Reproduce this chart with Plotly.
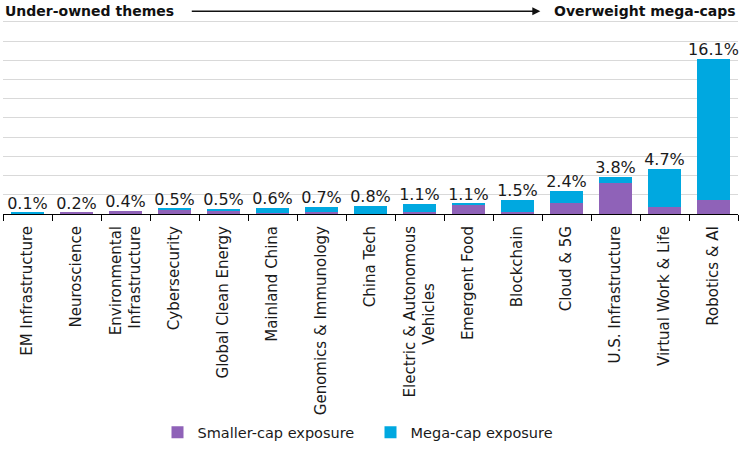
import plotly.graph_objects as go

NB = "\u00a0"
categories = [
    "EM Infrastructure", "Neuroscience", "Environmental<br>Infrastructure",
    "Cybersecurity", "Global Clean Energy", "Mainland China",
    "Genomics & Immunology", "China Tech",
    "Electric & Autonomous<br>Vehicles" + NB * 12,
    "Emergent Food", "Blockchain", "Cloud & 5G", "U.S. Infrastructure",
    "Virtual Work & Life", "Robotics & AI",
]
smaller_cap = [0.02, 0.15, 0.36, 0.45, 0.35, 0.12, 0.25, 0.02, 0.25, 0.97, 0.25, 1.1, 3.27, 0.77, 1.45]
mega_cap = [0.13, 0.0, 0.0, 0.12, 0.14, 0.47, 0.45, 0.78, 0.78, 0.1, 1.25, 1.25, 0.56, 3.88, 14.65]
total_labels = ["0.1%", "0.2%", "0.4%", "0.5%", "0.5%", "0.6%", "0.7%", "0.8%",
                "1.1%", "1.1%", "1.5%", "2.4%", "3.8%", "4.7%", "16.1%"]

PURPLE = "#8F62B8"
BLUE = "#00A8E0"
FONT = "DejaVu Sans"
TEXT = "#1a1a1a"

totals = [s + m for s, m in zip(smaller_cap, mega_cap)]

fig = go.Figure()
fig.add_trace(go.Bar(x=categories, y=smaller_cap, name="Smaller-cap exposure",
                     marker=dict(color=PURPLE, line=dict(width=0))))
fig.add_trace(go.Bar(x=categories, y=mega_cap, name="Mega-cap exposure",
                     marker=dict(color=BLUE, line=dict(width=0))))
fig.add_trace(go.Scatter(x=categories, y=totals, text=total_labels, mode="text",
                         textposition="top center", showlegend=False,
                         textfont=dict(family=FONT, size=16, color=TEXT),
                         cliponaxis=False, hoverinfo="skip"))

fig.update_layout(
    width=740, height=450,
    barmode="stack", bargap=0.33,
    margin=dict(l=3, r=2, t=19, b=232),
    plot_bgcolor="white", paper_bgcolor="white",
    font=dict(family=FONT, size=14, color=TEXT),
    showlegend=True,
    legend=dict(orientation="h", x=0.5, xanchor="center", y=-1.12, yanchor="middle",
                font=dict(family=FONT, size=14.5, color=TEXT),
                traceorder="normal", itemwidth=30, entrywidth=168),
    xaxis=dict(
        range=[-0.5, 14.5],
        showgrid=False, showline=True, linecolor="#000000", linewidth=1,
        ticks="outside", tickson="boundaries", ticklen=6, tickcolor="#000000",
        tickangle=-90, automargin=False, ticklabelstandoff=5,
        tickfont=dict(family=FONT, size=15, color=TEXT),
    ),
    yaxis=dict(
        range=[0, 20.3], dtick=2, showticklabels=False, showgrid=True,
        gridcolor="#d9d9d9", gridwidth=1, zeroline=False, automargin=False,
    ),
)

fig.add_annotation(text="<b>Under-owned themes</b>", xref="paper", yref="paper",
                   x=0.0, y=1.040, xanchor="left", yanchor="middle", showarrow=False,
                   font=dict(family=FONT, size=14, color="#111111"))
fig.add_annotation(text="<b>Overweight mega-caps</b>", xref="paper", yref="paper",
                   x=1.0, y=1.040, xanchor="right", yanchor="middle", showarrow=False,
                   font=dict(family=FONT, size=14, color="#111111"))
fig.add_annotation(text="", xref="paper", yref="paper", x=0.731, y=1.040,
                   ax=-350, ay=0, axref="pixel", ayref="pixel",
                   showarrow=True, arrowhead=2, arrowsize=1, arrowwidth=1.6,
                   arrowcolor="#111111")

fig.write_html("out.html", config={"displayModeBar": False},
               post_script="document.body.style.margin='0';")
